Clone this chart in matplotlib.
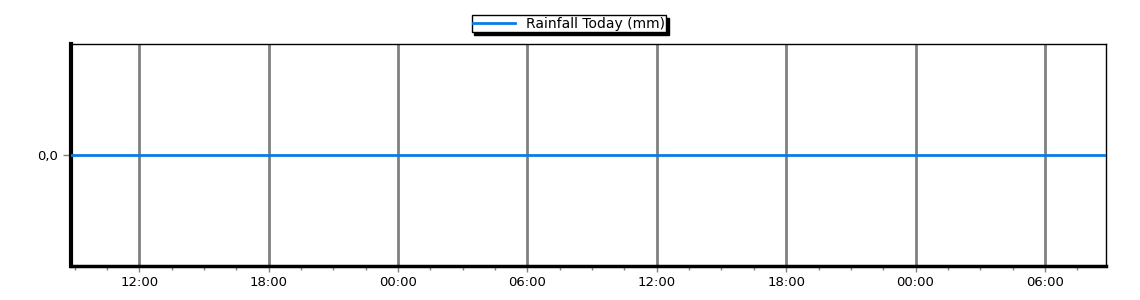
import matplotlib
matplotlib.use("Agg")
import matplotlib.pyplot as plt
import matplotlib.dates as mdates
from matplotlib.ticker import FuncFormatter
from datetime import datetime

times = ["2024-01-01 08:50", "2024-01-01 14:50", "2024-01-01 20:50", "2024-01-02 02:50",
         "2024-01-02 08:50", "2024-01-02 14:50", "2024-01-02 20:50", "2024-01-03 02:50",
         "2024-01-03 08:50"]
rain = [0.0, 0.0, 0.0, 0.0, 0.0, 0.0, 0.0, 0.0, 0.0]
y_ticks = [0.0]
series_label = "Rainfall Today (mm)"

t = [datetime.strptime(s, "%Y-%m-%d %H:%M") for s in times]

plt.rcParams['font.family'] = ['DejaVu Sans']
fig = plt.figure(figsize=(11.4, 3.0), dpi=100)
ax = fig.add_axes([71/1140, 34/300, (1106-71)/1140, (266-44)/300])

ax.plot(t, rain, color="#0a7ce6", lw=2, label=series_label, zorder=3)
ax.set_xlim(t[0], t[-1])
ax.set_ylim(-1, 1)

ax.xaxis.set_major_locator(mdates.HourLocator(byhour=[0, 6, 12, 18]))
ax.xaxis.set_major_formatter(mdates.DateFormatter("%H:%M"))
minor = []
start = mdates.date2num(datetime(2024, 1, 1, 6, 0))
for k in range(0, 40):
    v = start + k * 1.5 / 24
    if mdates.date2num(t[0]) <= v <= mdates.date2num(t[-1]):
        minor.append(v)
ax.set_xticks(minor, minor=True)
ax.set_yticks(y_ticks)
ax.yaxis.set_major_formatter(FuncFormatter(lambda v, p: f"{v:.1f}".replace(".", ",")))

ax.grid(axis="x", which="major", color="#808080", lw=2)
ax.tick_params(axis="x", which="major", length=4, width=1, color="#808080", labelsize=9.5, pad=3)
ax.tick_params(axis="x", which="minor", length=3, width=1, color="#808080")
ax.tick_params(axis="y", length=6, width=1, color="#808080", labelsize=9.5, pad=3)

for s in ["top", "right"]:
    ax.spines[s].set_linewidth(1)
ax.spines["left"].set_linewidth(3)
ax.spines["bottom"].set_linewidth(2.5)

leg = ax.legend(loc="lower center", bbox_to_anchor=(0.481, 1.054), frameon=True, fancybox=False,
                shadow={'color': 'black', 'alpha': 1}, fontsize=10, borderpad=0.1,
                handlelength=3, handletextpad=0.8, borderaxespad=0)
leg.get_frame().set_edgecolor("black")
leg.get_frame().set_linewidth(1)

fig.savefig("out.png", dpi=100)
